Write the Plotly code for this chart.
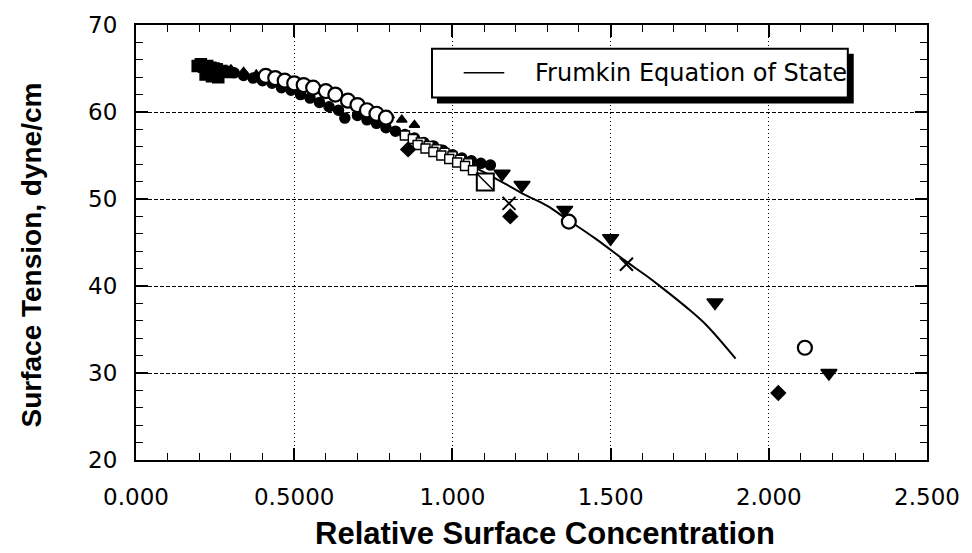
import plotly.graph_objects as go

# ---- data ----
curve_x = [0.98, 1.05, 1.12, 1.223, 1.30, 1.361, 1.45, 1.55, 1.612, 1.659, 1.738, 1.80, 1.895]
curve_y = [55.3, 54.0, 52.7, 50.6, 49.2, 47.7, 45.5, 42.8, 41.2, 39.9, 37.6, 35.6, 31.65]

fsq_x = [0.195, 0.205, 0.215, 0.225, 0.235, 0.245, 0.255, 0.27, 0.285, 0.22, 0.24, 0.26]
fsq_y = [65.3, 65.5, 65.2, 65.3, 65.1, 65.0, 64.9, 64.7, 64.6, 64.3, 64.1, 64.0]

fci_x = [0.28, 0.31, 0.34, 0.37, 0.40, 0.43, 0.46, 0.49, 0.52, 0.55, 0.58, 0.61, 0.64, 0.66,
         0.70, 0.73, 0.76, 0.79, 0.82, 0.85, 0.88, 0.91, 0.94, 0.97, 1.00, 1.03, 1.06, 1.09, 1.12]
fci_y = [64.6, 64.5, 64.2, 63.9, 63.6, 63.3, 62.8, 62.5, 62.0, 61.6, 61.1, 60.6, 60.2, 59.3,
         59.6, 59.1, 58.7, 58.2, 57.8, 57.4, 57.0, 56.5, 56.1, 55.6, 55.1, 54.7, 54.4, 54.1, 53.9]

ftu_x = [0.26, 0.30, 0.34, 0.38, 0.60, 0.64, 0.68, 0.80, 0.84, 0.88]
ftu_y = [65.0, 64.9, 64.6, 64.3, 62.6, 62.0, 61.4, 59.6, 59.1, 58.5]

oci_x = [0.41, 0.44, 0.47, 0.50, 0.53, 0.56, 0.60, 0.63, 0.67, 0.70, 0.73, 0.76, 0.79, 1.368, 2.114]
oci_y = [64.15, 63.9, 63.6, 63.3, 63.1, 62.8, 62.4, 62.0, 61.3, 60.8, 60.2, 59.8, 59.35, 47.4, 32.9]

osq_x = [0.85, 0.875, 0.90, 0.925, 0.95, 0.975, 1.00, 1.025, 1.05,
         0.89, 0.915, 0.94, 0.965, 0.99, 1.015, 1.04, 1.065]
osq_y = [57.3, 56.9, 56.5, 56.1, 55.7, 55.3, 54.9, 54.5, 54.1,
         56.2, 55.8, 55.4, 55.0, 54.6, 54.2, 53.8, 53.3]

bsq_x = [1.104]
bsq_y = [51.95]

dia_x = [0.86, 1.183, 2.03]
dia_y = [55.7, 48.0, 27.7]

tri_x = [1.157, 1.22, 1.355, 1.50, 1.83, 2.19]
tri_y = [52.9, 51.6, 48.75, 45.5, 38.1, 30.0]

crs_x = [1.179, 1.55]
crs_y = [49.5, 42.5]

x_ticks = [0, 0.5, 1.0, 1.5, 2.0, 2.5]
x_ticktext = ["0.000", "0.5000", "1.000", "1.500", "2.000", "2.500"]
y_ticks = [20, 30, 40, 50, 60, 70]

# ---- figure ----
W, H = 972, 553
ML, MR, MT, MB = 136, 37, 22, 93
fig = go.Figure()

def sc(x, y, symbol, size, filled=True, lw=1.5):
    fig.add_trace(go.Scatter(
        x=x, y=y, mode="markers", showlegend=False,
        marker=dict(symbol=symbol, size=size,
                    color="black" if filled else "white",
                    line=dict(color="black", width=lw))))

fig.add_trace(go.Scatter(x=curve_x, y=curve_y, mode="lines", name="Frumkin Equation of State",
                         line=dict(color="black", width=2, shape="spline"), showlegend=False))
sc(fsq_x, fsq_y, "square", 11)
sc(fci_x, fci_y, "circle", 10)
sc(ftu_x, ftu_y, "triangle-up", 9)
sc(osq_x, osq_y, "square", 9, filled=False, lw=1.4)
sc(oci_x, oci_y, "circle", 14, filled=False, lw=2.2)
sc(bsq_x, bsq_y, "square", 17, filled=False, lw=2)
sc(bsq_x, bsq_y, "line-nw", 17, filled=False, lw=1.5)
sc(dia_x, dia_y, "diamond", 11)
sc(tri_x, tri_y, "triangle-down", 14)
sc(crs_x, crs_y, "x-thin", 13, filled=False, lw=2)

tickfont = dict(family="DejaVu Sans, Liberation Sans, sans-serif", size=23, color="black")
fig.update_xaxes(range=[0, 2.5], tickvals=x_ticks, ticktext=x_ticktext,
                 showline=True, linecolor="black", linewidth=2, mirror="ticks",
                 ticks="inside", ticklen=12, tickwidth=1.5, tickcolor="black",
                 minor=dict(dtick=0.1, ticks="inside", ticklen=7, tickcolor="black", tickwidth=1.3, showgrid=False),
                 showgrid=True, gridcolor="black", gridwidth=1, griddash="1px,3px",
                 tickfont=tickfont, zeroline=False, ticklabelstandoff=15)
fig.update_yaxes(range=[20, 70], tickvals=y_ticks,
                 showline=True, linecolor="black", linewidth=2, mirror="ticks",
                 ticks="inside", ticklen=12, tickwidth=1.5, tickcolor="black",
                 minor=dict(dtick=2, ticks="inside", ticklen=7, tickcolor="black", tickwidth=1.3, showgrid=False),
                 showgrid=True, gridcolor="black", gridwidth=1, griddash="4px,2px",
                 tickfont=tickfont, zeroline=False, ticklabelstandoff=12)

pw, ph = W - ML - MR, H - MT - MB
def px(p):
    return (p - ML) / pw
def py(p):
    return (H - MB - p) / ph

shapes = [
    dict(type="rect", xref="paper", yref="paper", x0=px(440), x1=px(861), y0=py(101), y1=py(51),
         fillcolor="black", line=dict(width=0), layer="above"),
    dict(type="rect", xref="paper", yref="paper", x0=px(435), x1=px(855), y0=py(95), y1=py(46),
         fillcolor="white", line=dict(color="black", width=2), layer="above"),
    dict(type="line", xref="paper", yref="paper", x0=px(467), x1=px(508), y0=py(70), y1=py(70),
         line=dict(color="black", width=1.5), layer="above"),
]
annotations = [
    dict(text="Frumkin Equation of State", xref="paper", yref="paper", x=px(537), y=py(70),
         xanchor="left", yanchor="middle", showarrow=False,
         font=dict(family="DejaVu Sans, Liberation Sans, sans-serif", size=24, color="black")),
    dict(text="<b>Relative Surface Concentration</b>", xref="paper", yref="paper",
         x=px(549), y=py(534), xanchor="center", yanchor="middle", showarrow=False,
         font=dict(family="Liberation Sans, Arial, sans-serif", size=31, color="black")),
    dict(text="<b>Surface Tension, dyne/cm</b>", xref="paper", yref="paper",
         x=px(30), y=py(254), xanchor="center", yanchor="middle", textangle=-90, showarrow=False,
         font=dict(family="Liberation Sans, Arial, sans-serif", size=28, color="black")),
]

fig.update_layout(width=W, height=H, margin=dict(l=ML, r=MR, t=MT, b=MB),
                  plot_bgcolor="white", paper_bgcolor="white",
                  shapes=shapes, annotations=annotations, showlegend=False)

fig.write_html("out.html")
